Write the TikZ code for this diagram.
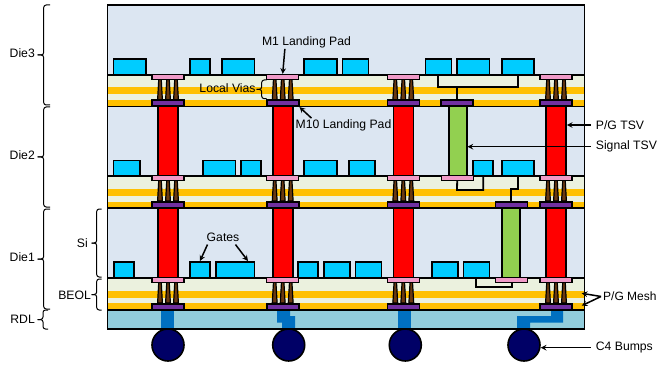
\documentclass[tikz,border=0pt]{standalone}
\usepackage{fontspec}
\setmainfont{Liberation Sans}
\usepackage{tikz}
\usetikzlibrary{calc}

\definecolor{diefill}{HTML}{DCE6F2}
\definecolor{beolfill}{HTML}{EBF1DE}
\definecolor{meshfill}{HTML}{FFC000}
\definecolor{gatefill}{HTML}{00CCFF}
\definecolor{padtop}{HTML}{F09AC8}
\definecolor{padbot}{HTML}{7030A0}
\definecolor{viafill}{HTML}{6B3A10}
\definecolor{rdlfill}{HTML}{92CDDC}
\definecolor{rdlwire}{HTML}{0070C0}
\definecolor{bumpfill}{HTML}{000066}
\definecolor{sigfill}{HTML}{92D050}

\tikzset{
    outline/.style={draw=black, line width=1.6pt},
    gate/.style={outline, fill=gatefill},
    m1pad/.style={draw=black, line width=1.3pt, fill=padtop, inner sep=0pt, minimum width=32pt, minimum height=5pt},
    m10pad/.style={outline, fill=padbot, inner sep=0pt, minimum width=32pt, minimum height=6pt},
    pgtsv/.style={outline, fill=red, inner sep=0pt, minimum width=20pt, minimum height=70pt},
    sigtsv/.style={outline, fill=sigfill, inner sep=0pt, minimum width=18pt, minimum height=70pt},
    bump/.style={outline, circle, fill=bumpfill, inner sep=0pt, minimum size=32pt},
    wire/.style={draw=black, line width=1.8pt},
    via/.style={draw=black, line width=1.2pt, line join=bevel, fill=viafill},
    lbl/.style={inner sep=0pt, font=\fontsize{12.2}{14}\selectfont},
    callout/.style={->, >=stealth, line width=1.5pt},
    sidebrace/.style={draw=black, line width=1pt, rounded corners=2.5pt}
}

% end x, spine x, tip x, top y, bottom y
\newcommand{\sidebrace}[5]{
    \pgfmathsetmacro{\mid}{(#4+#5)/2}
    \draw[sidebrace] (#1,#4) -- (#2,#4) -- (#2,\mid) -- (#3,\mid);
    \draw[sidebrace] (#1,#5) -- (#2,#5) -- (#2,\mid) -- (#3,\mid);
}

\begin{document}
\begin{tikzpicture}[x=1pt, y=-1pt]
    \useasboundingbox (0,0) rectangle (657,369);

    % Draw stack background
    \fill[diefill] (107.5,5) rectangle (584.5,329);

    % Draw BEOL layers
    \fill[beolfill] (107.5,75) rectangle (584.5,106.5);
    \fill[beolfill] (107.5,176) rectangle (584.5,208);
    \fill[beolfill] (107.5,278) rectangle (584.5,310);

    % Draw P/G mesh bands
    \fill[meshfill] (107.5,87) rectangle (584.5,94);
    \fill[meshfill] (107.5,100) rectangle (584.5,106.5);
    \fill[meshfill] (107.5,189) rectangle (584.5,196);
    \fill[meshfill] (107.5,202) rectangle (584.5,208);
    \fill[meshfill] (107.5,291) rectangle (584.5,298);
    \fill[meshfill] (107.5,303) rectangle (584.5,310);

    % Draw layer boundaries
    \draw[outline] (107.5,75) -- (584.5,75);
    \draw[outline] (107.5,106.5) -- (584.5,106.5);
    \draw[outline] (107.5,176) -- (584.5,176);
    \draw[outline] (107.5,208) -- (584.5,208);
    \draw[outline] (107.5,278) -- (584.5,278);

    % Draw RDL
    \fill[rdlfill] (107.5,310) rectangle (584.5,329);
    \fill[rdlwire] (161,310) rectangle (174,329);
    \fill[rdlwire] (277,310) -- (290,310) -- (290,316) -- (295,316) -- (295,329) -- (282,329) -- (282,322.7) -- (277,322.7) -- cycle;
    \fill[rdlwire] (398,310) rectangle (411,329);
    \fill[rdlwire] (551,310) -- (563,310) -- (563,322.7) -- (530,322.7) -- (530,329) -- (517,329) -- (517,316) -- (551,316) -- cycle;
    \draw[outline] (107.5,310) -- (584.5,310);

    % Draw gates of Die3
    \path[gate] (113.3,59) rectangle (146,75);
    \path[gate] (190,59) rectangle (210,75);
    \path[gate] (221.7,59) rectangle (254.3,75);
    \path[gate] (304,59) rectangle (337,75);
    \path[gate] (342.3,59) rectangle (368.3,75);
    \path[gate] (425.3,59) rectangle (451.3,75);
    \path[gate] (457,59) rectangle (489.3,75);
    \path[gate] (501.7,59) rectangle (533.7,75);

    % Draw gates of Die2
    \path[gate] (113.3,160.7) rectangle (140,176);
    \path[gate] (202.7,160.7) rectangle (235.3,176);
    \path[gate] (240.7,160.7) rectangle (260.7,176);
    \path[gate] (304,160.7) rectangle (337,176);
    \path[gate] (349,160.7) rectangle (375,176);
    \path[gate] (472.7,160.7) rectangle (492.7,176);
    \path[gate] (501.7,160.7) rectangle (533.7,176);

    % Draw gates of Die1
    \path[gate] (113.7,262) rectangle (133.7,278);
    \path[gate] (190,262) rectangle (210,278);
    \path[gate] (215.7,262) rectangle (254.3,278);
    \path[gate] (297.7,262) rectangle (317.7,278);
    \path[gate] (323.7,262) rectangle (350,278);
    \path[gate] (355.3,262) rectangle (381.3,278);
    \path[gate] (431.7,262) rectangle (457.7,278);
    \path[gate] (463.3,262) rectangle (489.3,278);

    % Draw local vias
    \foreach \cx in {168,282.7,403.3,556} {
        \foreach \ty in {79,180,282} {
            \foreach \dx in {-8,0,8} {
                \draw[via] (\cx+\dx-1.2,\ty) -- (\cx+\dx+1.2,\ty) -- (\cx+\dx+2.4,\ty+21) -- (\cx+\dx-2.4,\ty+21) -- cycle;
            }
        }
    }

    % Draw P/G TSVs
    \foreach \cx/\cn in {168/a,282.7/b,403.3/c,556/d} {
        \node[pgtsv] (tsv2\cn) at (\cx,141) {};
        \node[pgtsv] (tsv1\cn) at (\cx,243) {};
    }

    % Draw signal TSVs
    \node[sigtsv] (sig2) at (457.7,141) {};
    \node[sigtsv] (sig1) at (511,243) {};

    % Draw landing pads
    \foreach \cx/\cn in {168/a,282.7/b,403.3/c,556/d} {
        \node[m1pad] (top3\cn) at (\cx,77) {};
        \node[m1pad] (top2\cn) at (\cx,178) {};
        \node[m1pad] (top1\cn) at (\cx,280) {};
        \node[m10pad] (bot3\cn) at (\cx,103.3) {};
        \node[m10pad] (bot2\cn) at (\cx,205) {};
        \node[m10pad] (bot1\cn) at (\cx,306.7) {};
    }
    \node[m10pad] (sigbot3) at (457.2,103.3) {};
    \node[m1pad] (sigtop2) at (457.2,178) {};
    \node[m10pad] (sigbot2) at (511.5,205) {};
    \node[m1pad] (sigtop1) at (511.5,280) {};

    % Draw signal wires
    \draw[wire] (438.3,75) -- (438.3,87.3) -- (518.3,87.3) -- (518.3,75);
    \draw[wire] (sigbot3.north) -- (457.2,87.3);
    \draw[wire] (483.3,176) -- (483.3,190) -- (457,190) -- (sigtop2.south);
    \draw[wire] (518.3,176) -- (518.3,189) -- (511,189) -- (sigbot2.north -| 511,0);
    \draw[wire] (476,278) -- (476,287) -- (512.3,287) -- (512.3,282);

    % Draw outer frame
    \draw[outline, line width=1.9pt] (107.5,5) rectangle (584.5,329);

    % Draw C4 bumps
    \node[bump] (bumpa) at (168,345) {};
    \node[bump] (bumpb) at (288.7,345) {};
    \node[bump] (bumpc) at (405.3,345) {};
    \node[bump] (bumpd) at (524,345) {};

    % Add die labels and braces
    \node[lbl, anchor=east] (die3) at (35,53) {Die3};
    \node[lbl, anchor=east] (die2) at (35,155) {Die2};
    \node[lbl, anchor=east] (die1) at (35,257) {Die1};
    \node[lbl, anchor=east] (rdl) at (35,319) {RDL};
    \node[lbl, anchor=east] (si) at (88,243) {Si};
    \node[lbl, anchor=east] (beol) at (91,295) {BEOL};
    \sidebrace{50}{43.7}{37.5}{5}{105}
    \sidebrace{50}{43.7}{37.5}{107}{207}
    \sidebrace{50}{43.7}{37.5}{209}{309}
    \sidebrace{48}{43}{37.5}{310}{329}
    \sidebrace{101.7}{96.7}{91.5}{209}{277}
    \sidebrace{101.7}{96.7}{91.5}{279}{310}

    % Add landing pad labels
    \node[lbl] (m1lbl) at (306.5,42) {M1 Landing Pad};
    \node[lbl] (m10lbl) at (343.5,125) {M10 Landing Pad};
    \draw[callout] ($(m1lbl.south west)+(23,1)$) -- (top3b.north);
    \draw[callout] ($(m10lbl.north west)+(16,-1)$) -- (bot3b.south east);

    % Add local vias label
    \node[lbl] (vialbl) at (227.5,88) {Local Vias};
    \sidebrace{266.7}{261.7}{256.7}{80}{98.7}

    % Add gates label
    \node[lbl] (gatelbl) at (223,237) {Gates};
    \coordinate (gateleft) at (200,261);
    \coordinate (gateright) at (248,261);
    \draw[callout] ($(gatelbl.south west)+(1,3)$) -- (gateleft);
    \draw[callout] ($(gatelbl.south east)+(-4,3)$) -- (gateright);

    % Add labels on the right
    \node[lbl, anchor=west] (pgtsvlbl) at (595.7,125) {P/G TSV};
    \node[lbl, anchor=west] (sigtsvlbl) at (595.7,146.7) {Signal TSV};
    \node[lbl, anchor=west, font=\fontsize{12}{14}\selectfont] (meshlbl) at (603,296.5) {P/G Mesh};
    \node[lbl, anchor=west] (bumplbl) at (595.7,347.7) {C4 Bumps};
    \coordinate (meshup) at (581.7,293.3);
    \coordinate (meshdown) at (581.7,305.7);
    \draw[callout] ($(pgtsvlbl.west)+(-5,0)$) -- (pgtsvlbl.west -| tsv2d.east);
    \draw[callout] ($(sigtsvlbl.west)+(-5,0)$) -- (sigtsvlbl.west -| sig2.east);
    \draw[callout] ($(meshlbl.west)+(-2,0)$) -- (meshup);
    \draw[callout] ($(meshlbl.west)+(-2,0)$) -- (meshdown);
    \draw[callout] ($(bumplbl.west)+(-5,0)$) -- (bumpd.east |- bumplbl.west);
\end{tikzpicture}
\end{document}
